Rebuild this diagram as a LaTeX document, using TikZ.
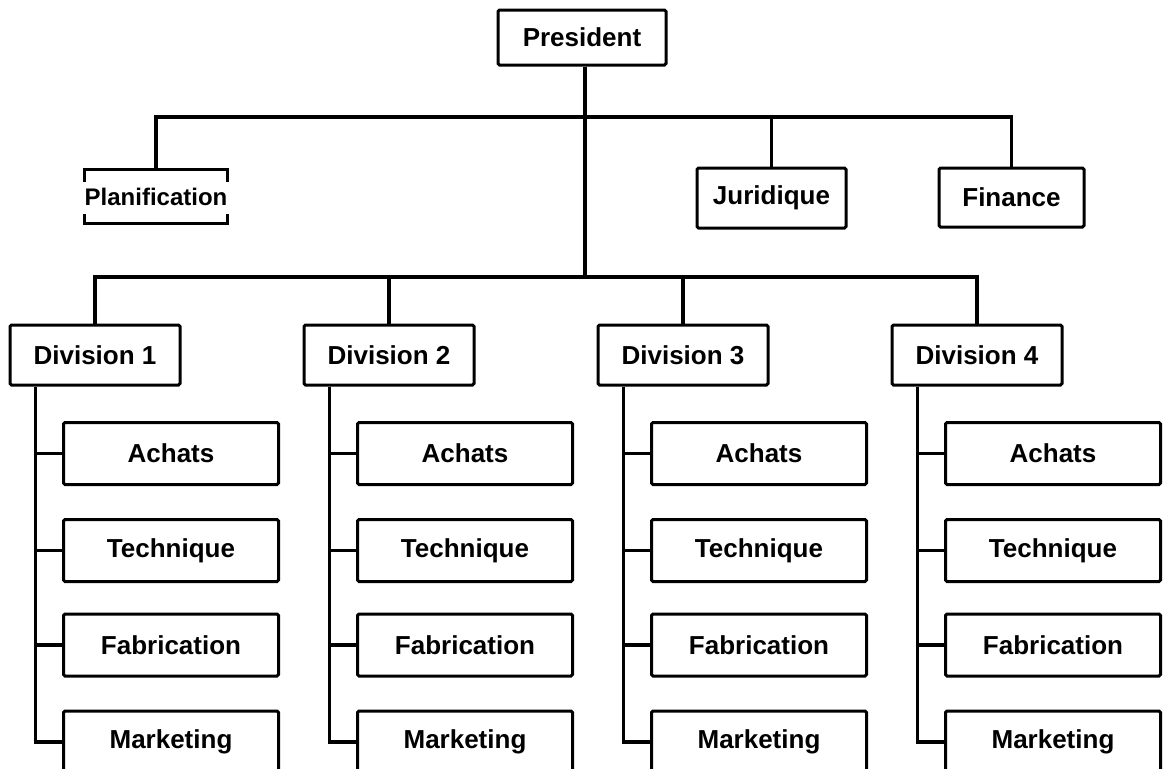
\documentclass[tikz,border=0pt]{standalone}
\usepackage{fontspec}
\setmainfont{Liberation Sans}
\begin{document}
\begin{tikzpicture}[x=1pt, y=-1pt,
  wire/.style={line width=3.4pt, line join=miter},
  lbl/.style={font=\fontsize{26}{31}\selectfont\bfseries, inner sep=0pt},
  box/.style={lbl, draw, line width=3pt, rounded corners=1.5pt},
  divbox/.style={box, minimum width=170pt, minimum height=60pt},
  unitbox/.style={box, minimum width=215pt, minimum height=62pt}]
\clip (0,0) rectangle (1163,769);
\fill[white] (0,0) rectangle (1163,769);

% head office
\node[box, minimum width=168pt, minimum height=55pt] (pres) at (582,37.5) {President};
\node[lbl, font=\fontsize{24}{29}\selectfont\bfseries, minimum width=142pt, minimum height=53pt] (plan) at (156,196.5) {Planification};
\node[box, minimum width=149pt, minimum height=60pt] (jur) at (771.5,198) {Juridique};
\node[box, minimum width=145pt, minimum height=59pt] (fin) at (1011.5,197.5) {Finance};

% open frame of the planning unit
\draw[wire, line width=3pt] ([yshift=-12pt]plan.north west) -- (plan.north west) -- (plan.north east) -- ([yshift=-12pt]plan.north east);
\draw[wire, line width=3pt] ([yshift=9pt]plan.south west) -- (plan.south west) -- (plan.south east) -- ([yshift=9pt]plan.south east);

% bus lines
\coordinate (topbus) at (585,117);
\coordinate (divbus) at (585,277);
\draw[wire] (pres.south -| topbus) -- (divbus);
\draw[wire] (plan.north) |- (topbus) -| (fin.north);
\draw[wire] (jur.north) -- (jur.north |- topbus);

% divisions and their units
\foreach \k in {1,2,3,4} {
  \pgfmathsetmacro{\dx}{294*(\k-1)}
  \node[divbox] (d\k) at (95+\dx,355) {Division \k};
  \node[unitbox] (a\k) at (171+\dx,453.5) {Achats};
  \node[unitbox] (t\k) at (171+\dx,550.5) {Technique};
  \node[unitbox] (f\k) at (171+\dx,645) {Fabrication};
  \node[unitbox] (m\k) at (171+\dx,742) {Marketing};
  \coordinate (tr\k) at ([xshift=27pt]d\k.south west);
  \draw[wire] (tr\k) |- (m\k.west);
  \foreach \u in {a,t,f}
    \draw[wire] (\u\k.west) -- (\u\k.west -| tr\k);
}
\draw[wire] (d1.north) |- (divbus) -| (d4.north);
\draw[wire] (d2.north) -- (d2.north |- divbus);
\draw[wire] (d3.north) -- (d3.north |- divbus);
\end{tikzpicture}
\end{document}
